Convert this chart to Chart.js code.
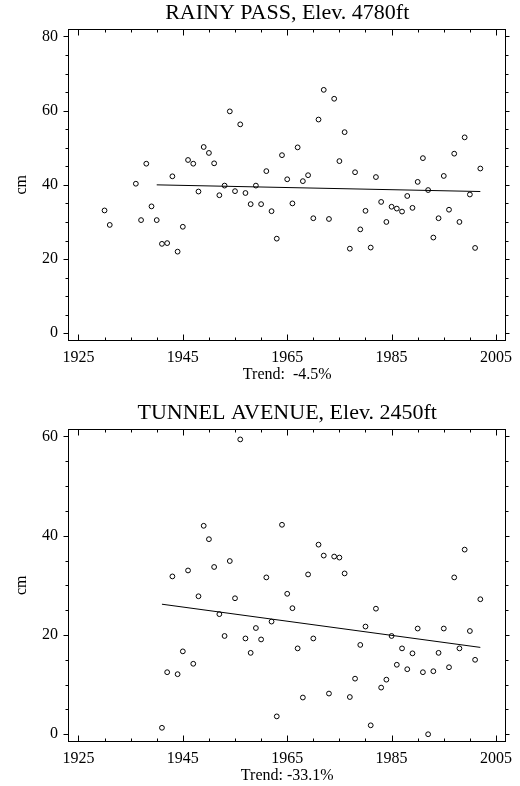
<!DOCTYPE html>
<html>
<head>
<meta charset="utf-8">
<script src="https://cdn.jsdelivr.net/npm/chart.js@4"></script>
<style>
  html, body { margin: 0; padding: 0; background: #fff; }
  canvas { display: block; }
</style>
</head>
<body>
<canvas id="c1" width="520" height="393"></canvas>
<canvas id="c2" width="520" height="393"></canvas>
<script>
// ---- Data ----
const rainyTitle = 'RAINY PASS, Elev. 4780ft';
const rainyTrendLabel = 'Trend:  -4.5%';
const rainyYears = [1930, 1931, 1936, 1937, 1938, 1939, 1940, 1941, 1942, 1943, 1944, 1945,
  1946, 1947, 1948, 1949, 1950, 1951, 1952, 1953, 1954, 1955, 1956, 1957, 1958, 1959, 1960,
  1961, 1962, 1963, 1964, 1965, 1966, 1967, 1968, 1969, 1970, 1971, 1972, 1973, 1974, 1975,
  1976, 1977, 1978, 1979, 1980, 1981, 1982, 1983, 1984, 1985, 1986, 1987, 1988, 1989, 1990,
  1991, 1992, 1993, 1994, 1995, 1996, 1997, 1998, 1999, 2000, 2001, 2002];
const rainyValues = [33.1, 29.2, 40.3, 30.5, 45.7, 34.2, 30.5, 24.1, 24.3, 42.3, 22.0, 28.7,
  46.7, 45.7, 38.2, 50.2, 48.6, 45.8, 37.2, 39.8, 59.8, 38.3, 56.3, 37.8, 34.8, 39.8, 34.8,
  43.7, 32.9, 25.5, 48.0, 41.5, 35.0, 50.1, 41.0, 42.6, 31.0, 57.6, 65.6, 30.8, 63.2, 46.4,
  54.2, 22.8, 43.4, 28.0, 33.0, 23.1, 42.1, 35.4, 30.0, 34.1, 33.6, 32.8, 37.0, 33.8, 40.8,
  47.2, 38.6, 25.8, 31.0, 42.4, 33.3, 48.4, 30.0, 52.8, 37.4, 23.0, 44.4];
const rainyTrendYears = [1940, 2002];
const rainyTrendValues = [40.0, 38.2];

const tunnelTitle = 'TUNNEL AVENUE, Elev. 2450ft';
const tunnelTrendLabel = 'Trend: -33.1%';
const tunnelYears = [1941, 1942, 1943, 1944, 1945, 1946, 1947, 1948, 1949, 1950, 1951, 1952,
  1953, 1954, 1955, 1956, 1957, 1958, 1959, 1960, 1961, 1962, 1963, 1964, 1965, 1966, 1967,
  1968, 1969, 1970, 1971, 1972, 1973, 1974, 1975, 1976, 1977, 1978, 1979, 1980, 1981, 1982,
  1983, 1984, 1985, 1986, 1987, 1988, 1989, 1990, 1991, 1992, 1993, 1994, 1995, 1996, 1997,
  1998, 1999, 2000, 2001, 2002];
const tunnelValues = [1.3, 12.5, 31.8, 12.1, 16.7, 33.0, 14.2, 27.8, 42.0, 39.3, 33.7, 24.2,
  19.8, 34.9, 27.4, 59.4, 19.3, 16.4, 21.4, 19.1, 31.6, 22.7, 3.6, 42.2, 28.3, 25.4, 17.3,
  7.4, 32.2, 19.3, 38.2, 36.0, 8.2, 35.8, 35.6, 32.4, 7.5, 11.2, 18.0, 21.7, 1.8, 25.3,
  9.4, 11.0, 19.8, 14.0, 17.3, 13.1, 16.3, 21.3, 12.5, 0.0, 12.7, 16.4, 21.3, 13.5, 31.6,
  17.3, 37.2, 20.8, 15.0, 27.2];
const tunnelTrendYears = [1941, 2002];
const tunnelTrendValues = [26.2, 17.5];

// ---- Axis settings ----
const xMin = 1923, xMax = 2007, xMinorStep = 5, xLabelStep = 20, xLabelBase = 1925;
const rainyYMin = -2, rainyYMax = 82;
const tunnelYMin = -1.5, tunnelYMax = 61.5;
const yMinorStep = 5, yLabelStep = 20;
const yAxisLabel = 'cm';

const FONT = "'Liberation Serif', 'Times New Roman', serif";

const framePlugin = {
  id: 'frame',
  beforeDatasetsDraw(chart) {
    const {ctx, chartArea: a, scales: {x, y}} = chart;
    const L = Math.round(a.left) + 0.5, R = Math.round(a.right) - 0.5;
    const T = Math.round(a.top) + 0.5, B = Math.round(a.bottom) - 0.5;
    ctx.save();
    ctx.strokeStyle = '#000';
    ctx.lineWidth = 1;
    ctx.strokeRect(L, T, R - L, B - T);
    ctx.beginPath();
    x.ticks.forEach(t => {
      const px = Math.round(x.getPixelForValue(t.value)) + 0.5;
      const major = (t.value - xLabelBase) % xLabelStep === 0;
      const len = major ? 6 : 3;
      ctx.moveTo(px, B); ctx.lineTo(px, B - len);
      ctx.moveTo(px, T); ctx.lineTo(px, T + len);
    });
    y.ticks.forEach(t => {
      const py = Math.round(y.getPixelForValue(t.value)) + 0.5;
      const major = t.value % yLabelStep === 0;
      ctx.moveTo(L, py); ctx.lineTo(L - (major ? 5 : 3), py);
      ctx.moveTo(R, py); ctx.lineTo(R + (major ? 4 : 3), py);
    });
    ctx.stroke();
    ctx.restore();
  }
};

function makeChart(id, title, trendLabel, years, values, tYears, tValues, yMin, yMax, padTop, padBottom) {
  const pts = years.map((yr, i) => ({x: yr, y: values[i]}));
  const trend = tYears.map((yr, i) => ({x: yr, y: tValues[i]}));
  return new Chart(document.getElementById(id), {
    type: 'scatter',
    data: {
      datasets: [
        {
          data: pts,
          pointRadius: 2.4,
          pointBorderWidth: 1,
          borderColor: '#000',
          backgroundColor: 'rgba(255,255,255,0)',
          pointBackgroundColor: 'rgba(255,255,255,0)',
          pointBorderColor: '#000'
        },
        {
          type: 'line',
          data: trend,
          showLine: true,
          borderColor: '#000',
          borderWidth: 1,
          pointRadius: 0,
          fill: false
        }
      ]
    },
    options: {
      responsive: false,
      devicePixelRatio: 1,
      animation: false,
      events: [],
      layout: { padding: { top: padTop, right: 12.5, bottom: padBottom, left: 0 } },
      plugins: {
        legend: { display: false },
        tooltip: { enabled: false },
        title: {
          display: true,
          text: title,
          fullSize: false,
          color: '#000',
          font: { family: FONT, size: 22, weight: 'normal', lineHeight: 1 },
          padding: { top: 2, bottom: 5 }
        }
      },
      scales: {
        x: {
          type: 'linear',
          position: 'bottom',
          min: xMin, max: xMax,
          grid: { display: false, drawTicks: false },
          border: { display: false },
          ticks: {
            stepSize: xMinorStep,
            includeBounds: false,
            autoSkip: false,
            maxRotation: 0,
            padding: 7.7,
            color: '#000',
            font: { family: FONT, size: 16 },
            callback: v => ((v - xLabelBase) % xLabelStep === 0 ? String(v) : '')
          },
          title: {
            display: true,
            text: trendLabel,
            color: '#000',
            font: { family: FONT, size: 16, lineHeight: 1.2 },
            padding: { top: 0, bottom: 0 }
          },
          afterFit: s => { s.height = 44; }
        },
        y: {
          type: 'linear',
          position: 'left',
          min: yMin, max: yMax,
          grid: { display: false, drawTicks: false },
          border: { display: false },
          ticks: {
            stepSize: yMinorStep,
            includeBounds: false,
            autoSkip: false,
            padding: 10,
            color: '#000',
            font: { family: FONT, size: 16 },
            callback: v => (v % yLabelStep === 0 ? String(v) : '')
          },
          title: {
            display: true,
            text: yAxisLabel,
            color: '#000',
            font: { family: FONT, size: 16, lineHeight: 1.2 },
            padding: { top: 12, bottom: 0 }
          },
          afterFit: s => { s.width = 68; }
        }
      }
    },
    plugins: [framePlugin]
  });
}

makeChart('c1', rainyTitle, rainyTrendLabel, rainyYears, rainyValues,
  rainyTrendYears, rainyTrendValues, rainyYMin, rainyYMax, 0, 8.3);
makeChart('c2', tunnelTitle, tunnelTrendLabel, tunnelYears, tunnelValues,
  tunnelTrendYears, tunnelTrendValues, tunnelYMin, tunnelYMax, 7, 0.3);
</script>
</body>
</html>
